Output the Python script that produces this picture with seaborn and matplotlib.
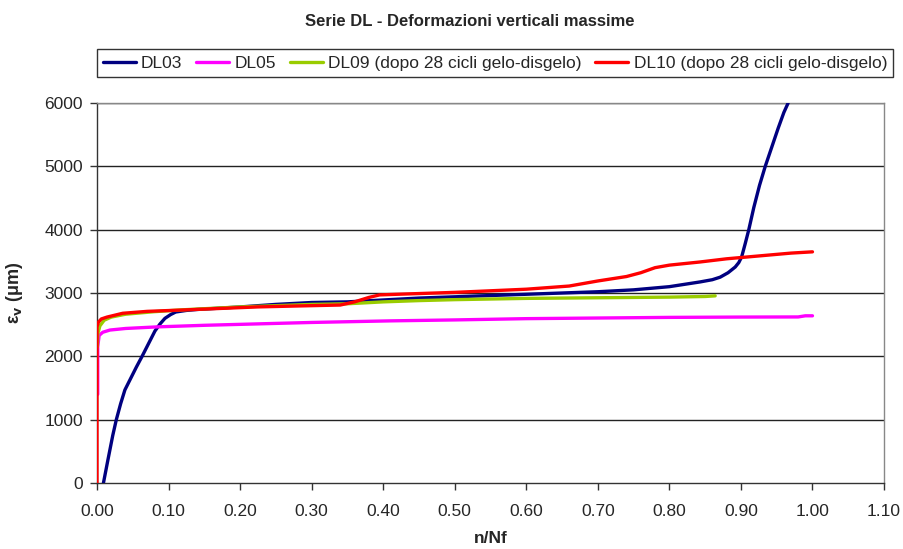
import numpy as np
import pandas as pd
import matplotlib
matplotlib.use("Agg")
import matplotlib.pyplot as plt
import seaborn as sns

# ---- data ----
dl03_x = [0.009, 0.015, 0.022, 0.027, 0.033, 0.039, 0.047, 0.055, 0.063, 0.072, 0.081, 0.088, 0.095, 0.103,
          0.11, 0.125, 0.14, 0.17, 0.2, 0.25, 0.3, 0.35, 0.4, 0.45, 0.5, 0.55, 0.6, 0.65, 0.7, 0.75, 0.8,
          0.843, 0.86, 0.871, 0.882, 0.892, 0.897, 0.901, 0.906, 0.911, 0.918, 0.926, 0.934, 0.943, 0.952,
          0.96, 0.966]
dl03_y = [0, 350, 750, 1000, 1250, 1470, 1650, 1830, 2000, 2200, 2400, 2510, 2600, 2660,
          2700, 2725, 2740, 2760, 2780, 2820, 2850, 2860, 2890, 2920, 2940, 2960, 2980, 3000, 3020, 3050, 3100,
          3175, 3210, 3250, 3320, 3410, 3480, 3570, 3780, 4000, 4350, 4700, 5000, 5300, 5600,
          5850, 6000]

dl05_x = [0.001, 0.001, 0.003, 0.008, 0.018, 0.04, 0.084, 0.15, 0.2, 0.3, 0.41, 0.5, 0.6, 0.7, 0.8, 0.9,
          0.98, 0.99, 1.0]
dl05_y = [1400, 2150, 2330, 2380, 2415, 2440, 2465, 2490, 2505, 2535, 2560, 2575, 2595, 2605, 2615, 2620,
          2622, 2640, 2640]

dl09_x = [0.0005, 0.001, 0.004, 0.01, 0.02, 0.04, 0.08, 0.12, 0.2, 0.3, 0.35, 0.4, 0.45, 0.5, 0.6, 0.7,
          0.8, 0.85, 0.864]
dl09_y = [2150, 2350, 2480, 2570, 2620, 2665, 2705, 2735, 2780, 2820, 2830, 2860, 2880, 2895, 2915, 2925,
          2935, 2945, 2955]

dl10_x = [0.0, 0.0, 0.002, 0.006, 0.014, 0.036, 0.07, 0.116, 0.17, 0.224, 0.28, 0.34, 0.36, 0.38, 0.395,
          0.42, 0.5, 0.6, 0.66, 0.7, 0.74, 0.76, 0.78, 0.8, 0.843, 0.88, 0.93, 0.97, 1.0]
dl10_y = [0, 2465, 2540, 2590, 2620, 2680, 2710, 2730, 2755, 2780, 2795, 2810, 2860, 2930, 2970,
          2980, 3010, 3060, 3110, 3190, 3260, 3320, 3400, 3440, 3490, 3540, 3590, 3630, 3650]

series = ["DL03", "DL05", "DL09 (dopo 28 cicli gelo-disgelo)", "DL10 (dopo 28 cicli gelo-disgelo)"]
colors = ["#000080", "#FF00FF", "#99CC00", "#FF0000"]
x_ticks = [0.0, 0.1, 0.2, 0.3, 0.4, 0.5, 0.6, 0.7, 0.8, 0.9, 1.0, 1.1]
y_ticks = [0, 1000, 2000, 3000, 4000, 5000, 6000]

frames = []
for name, xs, ys in zip(series, [dl03_x, dl05_x, dl09_x, dl10_x], [dl03_y, dl05_y, dl09_y, dl10_y]):
    frames.append(pd.DataFrame({"x": xs, "y": ys, "serie": name}))
df = pd.concat(frames, ignore_index=True)

sns.set_theme(style="white")
plt.rcParams['font.family'] = ['Liberation Sans', 'DejaVu Sans']

fig = plt.figure(figsize=(9.04, 5.49), dpi=100)
ax = fig.add_axes([0.1073, 0.1202, 0.8706, 0.6922])

for h in y_ticks[1:]:
    ax.axhline(h, color="#222222", lw=1.0, zorder=1)

sns.lineplot(data=df, x="x", y="y", hue="serie", hue_order=series, palette=colors,
             sort=False, estimator=None, lw=2.4, ax=ax, legend=True, zorder=3)

FS = 12.5
ax.set_xlim(0, 1.1)
ax.set_ylim(0, 6000)
ax.set_xticks(x_ticks)
ax.set_xticklabels([f"{t:.2f}" for t in x_ticks], fontsize=FS)
ax.set_yticks(y_ticks)
ax.set_yticklabels([str(t) for t in y_ticks], fontsize=FS)
ax.tick_params(axis="both", direction="out", length=5, width=1, color="#333333", bottom=True, left=True, pad=5)
ax.tick_params(axis="x", pad=10)

for s in ["left", "bottom"]:
    ax.spines[s].set_color("#333333")
    ax.spines[s].set_linewidth(1.0)
for s in ["top", "right"]:
    ax.spines[s].set_color("#888888")
    ax.spines[s].set_linewidth(1.0)

ax.set_xlabel("n/Nf", fontsize=12.5, fontweight="bold", labelpad=9)
ax.set_ylabel(r"ε$_\mathbf{v}$ (μm)", fontsize=13, fontweight="bold", labelpad=14)

fig.suptitle("Serie DL - Deformazioni verticali massime", x=0.52, y=0.975, fontsize=12, fontweight="bold")

handles, labels = ax.get_legend_handles_labels()
ax.legend(handles, labels, loc="center", bbox_to_anchor=(0.5476, 0.885), bbox_transform=fig.transFigure,
          ncol=4, fontsize=FS, frameon=True, fancybox=False, edgecolor="black", handlelength=1.9,
          handletextpad=0.3, columnspacing=0.8, borderpad=0.35, borderaxespad=0)
leg = ax.get_legend()
leg.get_frame().set_linewidth(1.0)

fig.savefig("out.png", dpi=100)
